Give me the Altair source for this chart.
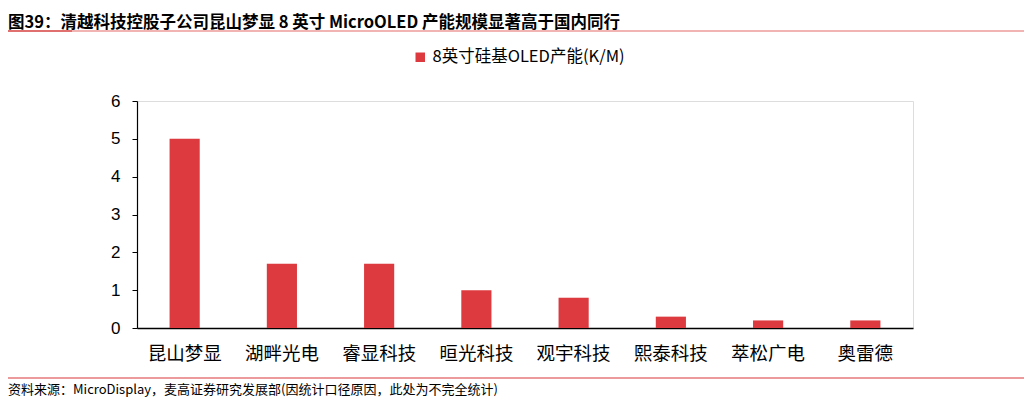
import altair as alt
import pandas as pd

categories = ["昆山梦显", "湖畔光电", "睿显科技", "晅光科技", "观宇科技", "熙泰科技", "萃松广电", "奥雷德"]
values = [5.0, 1.7, 1.7, 1.0, 0.8, 0.3, 0.2, 0.2]
series_name = "8英寸硅基OLED产能(K/M)"
title_text = "图39：清越科技控股子公司昆山梦显 8 英寸 MicroOLED 产能规模显著高于国内同行"
source_text = "资料来源：MicroDisplay，麦高证券研究发展部(因统计口径原因，此处为不完全统计)"

df = pd.DataFrame({"cat": categories, "val": values, "series": series_name})

W, H = 776, 227
TOP = 93
CJK = "Noto Sans CJK SC"
RED = "#DC3A3E"

bars = alt.Chart(df).mark_bar(color=RED).encode(
    x=alt.X("cat:N", sort=categories, title=None,
            scale=alt.Scale(paddingInner=0.69, paddingOuter=0.335),
            axis=alt.Axis(labelAngle=0, ticks=False, domainColor="black", domainWidth=1.5,
                          labelFont=CJK, labelFontSize=18.5, labelColor="black", labelPadding=16)),
    y=alt.Y("val:Q", title=None,
            scale=alt.Scale(domain=[0, 6]),
            axis=alt.Axis(values=[0, 1, 2, 3, 4, 5, 6], grid=False, domainColor="black", tickColor="black",
                          tickSize=5, labelFont="Liberation Sans", labelFontSize=17, labelColor="black",
                          labelPadding=12, domainWidth=1.2)),
    color=alt.Color("series:N", scale=alt.Scale(range=[RED]), title=None,
                    legend=alt.Legend(orient="none", legendX=275, legendY=-52, symbolType="square",
                                      symbolSize=90, labelFont=CJK, labelFontSize=16.5, labelColor="black",
                                      labelLimit=0, symbolStrokeWidth=0)),
)

title = alt.Chart(pd.DataFrame({"t": [title_text]})).mark_text(
    align="left", baseline="alphabetic", font=CJK, fontSize=16.5, fontWeight="bold", color="black"
).encode(text="t:N", x=alt.value(-129), y=alt.value(-73.5))

line_thin = alt.Chart(pd.DataFrame({"a": [0]})).mark_rule(color="#EE9A9A", strokeWidth=1.5).encode(
    x=alt.value(-129), x2=alt.value(890), y=alt.value(-70))
line_thick = alt.Chart(pd.DataFrame({"a": [0]})).mark_rule(color="#E07070", strokeWidth=2).encode(
    x=alt.value(-129), x2=alt.value(-65), y=alt.value(-70))
line_foot = alt.Chart(pd.DataFrame({"a": [0]})).mark_rule(color="#D9363B", strokeWidth=1.2).encode(
    x=alt.value(-129), x2=alt.value(890), y=alt.value(277))

source = alt.Chart(pd.DataFrame({"t": [source_text]})).mark_text(
    align="left", baseline="middle", font=CJK, fontSize=13, color="black"
).encode(text="t:N", x=alt.value(-129), y=alt.value(289))

chart = alt.layer(bars, title, line_thin, line_thick, line_foot, source).properties(
    width=W, height=H,
    autosize=alt.AutoSizeParams(type="none"),
    padding={"left": 129, "top": TOP, "right": 111, "bottom": 389 - TOP - H},
).configure_view(stroke=None).configure(background="white")

chart.save("out.html", embed_options={"renderer": "svg", "actions": False})
